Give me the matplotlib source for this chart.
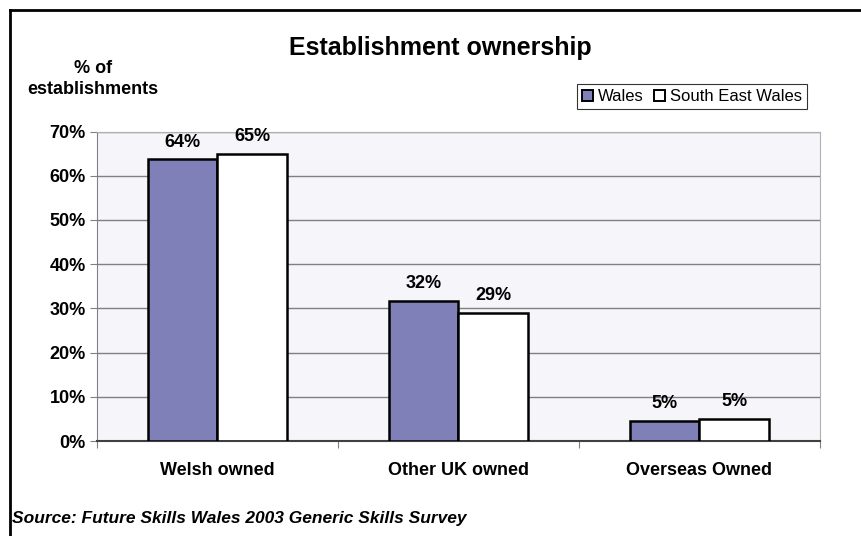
import matplotlib.pyplot as plt
import numpy as np
from matplotlib.lines import Line2D

plt.rcParams['font.family'] = ['Liberation Sans', 'DejaVu Sans']

categories = ['Welsh owned', 'Other UK owned', 'Overseas Owned']
wales = [63.7, 31.6, 4.6]
south_east = [65.0, 29.0, 5.0]
series_names = ['Wales', 'South East Wales']
yticks = [0, 10, 20, 30, 40, 50, 60, 70]

fig = plt.figure(figsize=(8.62, 5.36), dpi=100)
ax = fig.add_axes([97 / 862, 1 - 441 / 536, 723 / 862, 309.5 / 536])
ax.set_facecolor('#f5f5fa')

x = np.arange(len(categories))
w = 0.287
b1 = ax.bar(x - w / 2, wales, w, color='#8080b8', edgecolor='black', linewidth=1.8,
            label=series_names[0], zorder=3)
b2 = ax.bar(x + w / 2, south_east, w, color='white', edgecolor='black', linewidth=1.8,
            label=series_names[1], zorder=3)

for bars, vals in ((b1, wales), (b2, south_east)):
    for r, v in zip(bars, vals):
        ax.text(r.get_x() + r.get_width() / 2, v + 2.0, '%d%%' % round(v),
                ha='center', va='bottom', fontsize=13, fontweight='bold')

ax.set_xlim(-0.5, 2.5)
ax.set_ylim(0, 70)
ax.set_yticks(yticks)
ax.set_yticklabels(['%d%%' % t for t in yticks], fontsize=13, fontweight='bold')
ax.yaxis.grid(True, color='#808080', linewidth=1, zorder=0)
ax.set_axisbelow(True)

# category ticks sit between groups, labels at the group centres
ax.set_xticks([-0.5, 0.5, 1.5, 2.5])
ax.set_xticklabels([])
ax.set_xticks(x, minor=True)
ax.set_xticklabels(categories, minor=True, fontsize=13, fontweight='bold')
ax.tick_params(axis='x', which='minor', length=0, pad=15)
ax.tick_params(axis='x', which='major', length=5, direction='out', color='#808080')
ax.tick_params(axis='y', length=5, direction='out', color='#808080', pad=3)

ax.spines['top'].set_color('#b0b0b0')
ax.spines['right'].set_color('#b0b0b0')
ax.spines['left'].set_color('#808080')
ax.spines['bottom'].set_color('#404040')
ax.spines['bottom'].set_linewidth(1.5)

fig.text(440 / 862, 1 - 48 / 536, 'Establishment ownership', ha='center', va='center',
         fontsize=18, fontweight='bold')
fig.text(93 / 862, 1 - 79 / 536, '% of\nestablishments', ha='center', va='center',
         fontsize=13, fontweight='bold', linespacing=1.25)
fig.text(12 / 862, 1 - 518 / 536, 'Source: Future Skills Wales 2003 Generic Skills Survey',
         ha='left', va='center', fontsize=12.5, fontweight='bold', style='italic')

leg = fig.legend(handles=[b1, b2], loc='center', bbox_to_anchor=(692 / 862, 1 - 96.5 / 536),
                 ncol=2, frameon=True, fancybox=False, fontsize=12,
                 handlelength=0.65, handleheight=0.65, handletextpad=0.3, columnspacing=0.6,
                 borderpad=0.3, borderaxespad=0)
leg.get_frame().set_edgecolor('black')
leg.get_frame().set_linewidth(0.8)
leg.get_frame().set_facecolor('white')
for h in leg.legend_handles:
    h.set_linewidth(1.4)

# outer chart frame (left and top edges)
fig.add_artist(Line2D([10 / 862, 10 / 862], [0, 1 - 10 / 536], color='black', linewidth=2))
fig.add_artist(Line2D([10 / 862, 1], [1 - 10 / 536, 1 - 10 / 536], color='black', linewidth=2))

fig.savefig('out.png', dpi=100)
